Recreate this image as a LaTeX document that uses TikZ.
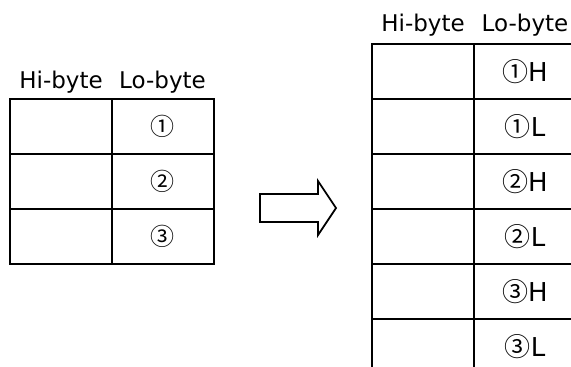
\documentclass[tikz,border=0pt]{standalone}
\usepackage{fontspec}
\setmainfont{DejaVu Sans}
\newfontfamily\kreisfont{Noto Sans CJK JP}
\newcommand{\kr}[1]{{\kreisfont #1}}
\tikzset{
  zelle/.style={draw, line width=2pt, minimum width=102pt, minimum height=55pt, inner sep=0pt},
  kopf/.style={anchor=base, font=\fontsize{23}{25}\selectfont},
}
\begin{document}
\begin{tikzpicture}[x=1pt, y=-1pt, >=latex, font=\fontsize{24}{26}\selectfont]
	% Bildbereich
	\useasboundingbox (0,0) rectangle (571,367);
	\clip (0,0) rectangle (571,367);
	% Tabelle links
	\node[kopf] (lhi) at (61,88) {Hi-byte};
	\node[kopf] (llo) at (162.5,88) {Lo-byte};
	\foreach \i/\txt in {1/①,2/②,3/③}{
		\node[zelle] (lh\i) at (61,{126.8+54.7*(\i-1)}) {};
		\node[zelle] (ll\i) at (162.5,{126.8+54.7*(\i-1)}) {\kr{\txt}};
	}
	% Pfeil
	\draw[line width=1.8pt, line join=miter] (260,194) -- (318,194) -- (318,181) -- (336,208)
		-- (318,235) -- (318,222) -- (260,222) -- cycle;
	% Tabelle rechts
	\node[kopf] (rhi) at (423,31) {Hi-byte};
	\node[kopf] (rlo) at (525,31) {Lo-byte};
	\foreach \i/\txt/\hl in {1/①/H,2/①/L,3/②/H,4/②/L,5/③/H,6/③/L}{
		\node[zelle] (rh\i) at (423,{71.8+54.9*(\i-1)}) {};
		\node[zelle, font=\fontsize{26}{28}\selectfont] (rl\i) at (525,{71.8+54.9*(\i-1)}) {\kr{\txt}\hl};
	}
\end{tikzpicture}
\end{document}
